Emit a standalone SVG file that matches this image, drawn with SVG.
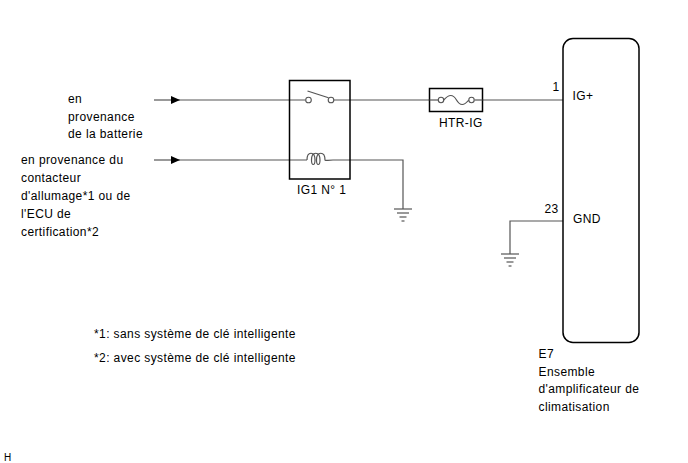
<svg xmlns="http://www.w3.org/2000/svg" width="688" height="463" viewBox="0 0 688 463">
<defs>
<style>
text{font-family:"Liberation Sans",Arial,sans-serif;font-size:12px;fill:#000;letter-spacing:0.4px}
.w{fill:none;stroke:#555;stroke-width:1.2}
.b{fill:none;stroke:#000;stroke-width:1.5}
.t{fill:#fff;stroke:#555;stroke-width:1.1}
.g{stroke:#555;stroke-width:1.2}
</style>
<marker id="arr" markerWidth="10" markerHeight="8" refX="9" refY="4" orient="auto" markerUnits="userSpaceOnUse">
<path d="M0,0 L9,4 L0,8 Z" fill="#000"/>
</marker>
</defs>
<rect width="688" height="463" fill="#fff"/>
<g id="connectors">
<path class="w" d="M154,100 H180" marker-end="url(#arr)"/>
<path class="w" d="M180,100 H305.5"/>
<path class="w" d="M334,100 H429.5"/>
<path class="w" d="M482.5,100 H563"/>
<path class="w" d="M154,160 H180" marker-end="url(#arr)"/>
<path class="w" d="M180,160 H307"/>
<path class="w" d="M333,160 H403 V209"/>
<path class="w" d="M563,221 H510 V254"/>
</g>
<g id="ground1">
<line class="g" x1="394" y1="209" x2="412" y2="209"/>
<line class="g" x1="397" y1="213" x2="409" y2="213"/>
<line class="g" x1="399.5" y1="217" x2="406.5" y2="217"/>
<line class="g" x1="401.5" y1="221" x2="404.5" y2="221"/>
</g>
<g id="ground2">
<line class="g" x1="501" y1="254" x2="519" y2="254"/>
<line class="g" x1="504" y1="258" x2="516" y2="258"/>
<line class="g" x1="506.5" y1="262" x2="513.5" y2="262"/>
<line class="g" x1="508.5" y1="266" x2="511.5" y2="266"/>
</g>
<g id="relay">
<rect class="b" x="289.5" y="80.5" width="60.5" height="98.5"/>
<circle class="t" cx="308.5" cy="100" r="2.8"/>
<circle class="t" cx="331" cy="100" r="2.8"/>
<line class="w" x1="307.5" y1="91" x2="328.5" y2="97.8"/>
<path class="w" d="M307,160 c0,-9 8,-9 8,0 c0,6 -3.5,6 -3.5,0 c0,-9 8.5,-9 8.5,0 c0,6 -3.5,6 -3.5,0 c0,-9 8.5,-9 8.5,0 c0,1 3,0 8,0"/>
<text x="297" y="194">IG1 N° 1</text>
</g>
<g id="fuse">
<rect class="b" x="429.5" y="88.5" width="53" height="23"/>
<path class="w" d="M429.5,100 H438"/>
<path class="w" d="M474.5,100 H482.5"/>
<circle class="t" cx="441" cy="100" r="2.7"/>
<circle class="t" cx="471.5" cy="100" r="2.7"/>
<path class="w" d="M443.7,100 C449,94 453,94 456.5,100 C460,106 464,106 468.8,100"/>
<text x="439" y="127">HTR-IG</text>
</g>
<g id="ecu">
<rect class="b" x="563" y="38.5" width="76" height="304" rx="10"/>
<text x="552.5" y="91">1</text>
<text x="572.5" y="100">IG+</text>
<text x="544.5" y="213">23</text>
<text x="573" y="223">GND</text>
<text x="538.5" y="357.5">E7</text>
<text x="538.5" y="375.5">Ensemble</text>
<text x="538.5" y="393">d'amplificateur de</text>
<text x="538.5" y="411">climatisation</text>
</g>
<g id="source1">
<text x="68" y="103">en</text>
<text x="68" y="120.5">provenance</text>
<text x="68" y="138">de la batterie</text>
</g>
<g id="source2">
<text x="21" y="164">en provenance du</text>
<text x="21" y="182">contacteur</text>
<text x="21" y="200">d'allumage*1 ou de</text>
<text x="21" y="218">l'ECU de</text>
<text x="21" y="236">certification*2</text>
</g>
<g id="notes">
<text x="94" y="338">*1: sans système de clé intelligente</text>
<text x="94" y="362">*2: avec système de clé intelligente</text>
<text x="4" y="461" style="font-size:10px;letter-spacing:0">H</text>
</g>
</svg>
